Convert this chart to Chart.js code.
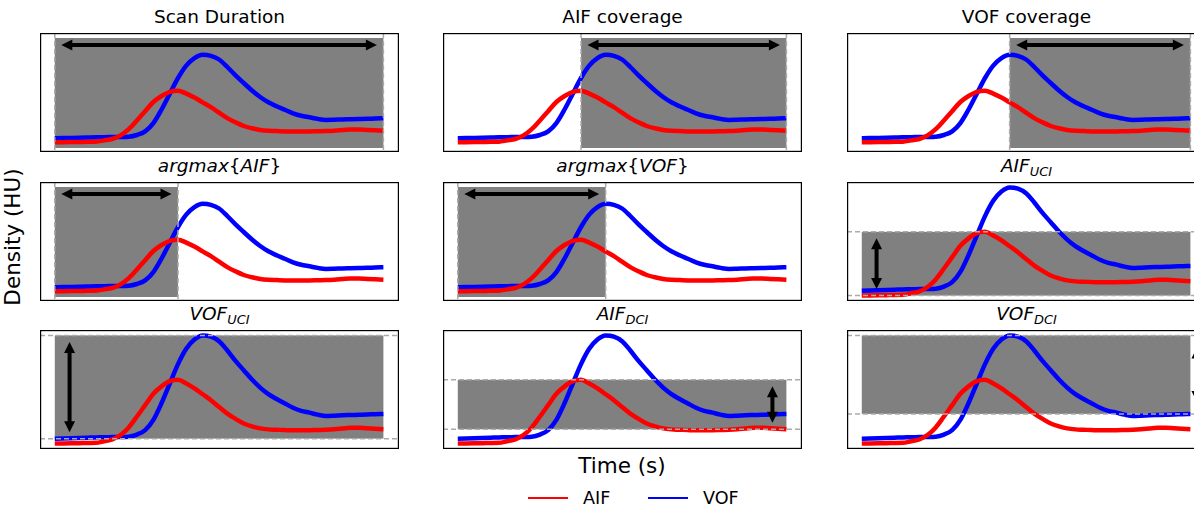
<!DOCTYPE html>
<html lang="en">
<head>
<meta charset="UTF-8">
<title>AIF / VOF timing and intensity panels</title>
<script src="https://cdn.jsdelivr.net/npm/chart.js"></script>
<style>
  html, body { margin: 0; padding: 0; }
  body { width: 1194px; height: 507px; overflow: hidden; position: relative; background: #fff;
         font-family: 'DejaVu Sans', sans-serif; color: #000; }
  canvas { position: absolute; }
  .title { position: absolute; font-size: 18.5px; line-height: 18.5px; white-space: nowrap; transform: translateX(-50%); }
  .title sub { font-size: 0.7em; vertical-align: baseline; position: relative; top: 0.3em; }
  #ylabel { position: absolute; left: 13.3px; top: 237px; font-size: 21.5px; line-height: 21.5px; white-space: nowrap;
            transform: translate(-50%, -50%) rotate(-90deg); }
  #xlabel { position: absolute; left: 622px; top: 455px; font-size: 21.5px; line-height: 21.5px; white-space: nowrap;
            transform: translateX(-50%); }
  .lg-line { position: absolute; top: 497px; width: 40px; height: 2px; }
  .lg-text { position: absolute; top: 490px; font-size: 17.6px; line-height: 17.6px; }
</style>
</head>
<body>
<div id="ylabel">Density (HU)</div>
<div id="xlabel">Time (s)</div>
<div id="legend"></div>

<script>
// ---- data ----
const times = [0, 1, 2, 3, 4, 5, 6, 7, 8, 9, 10, 11, 12, 13, 14, 15, 16, 17, 18, 19, 20,
               21, 22, 23, 24, 25, 26, 27, 28, 29, 30, 31, 32, 33, 34, 35, 36, 37, 38, 39, 40];
const aif = [7.7, 7.8, 7.9, 8.0, 8.2, 8.3, 9.6, 11.0, 14.6, 20.8, 29.6, 38.8, 48.0, 54.0, 58.2, 59.3,
             56.4, 52.4, 47.6, 42.8, 37.3, 31.9, 27.7, 24.0, 21.7, 20.0, 19.2, 18.9, 18.6, 18.4, 18.4,
             18.5, 18.7, 18.9, 19.3, 19.9, 20.5, 20.5, 20.1, 19.7, 19.3];
const vof = [11.7, 11.9, 12.1, 12.3, 12.5, 12.7, 12.8, 13.0, 13.1, 13.3, 15.0, 18.6, 26.9, 40.5, 56.3, 72.0,
             84.4, 91.9, 95.2, 94.2, 90.5, 83.0, 74.6, 67.0, 59.5, 53.0, 47.7, 43.7, 40.2, 36.7, 34.2,
             32.7, 31.1, 30.1, 30.3, 30.6, 30.8, 31.0, 31.2, 31.5, 31.7];

const seriesNames = ['AIF', 'VOF'];
const seriesColors = ['#ff0000', '#0000ff'];

const panelTitles = [
  'Scan Duration', 'AIF coverage', 'VOF coverage',
  '<i>argmax</i>{<i>AIF</i>}', '<i>argmax</i>{<i>VOF</i>}', '<i>AIF<sub>UCI</sub></i>',
  '<i>VOF<sub>UCI</sub></i>', '<i>AIF<sub>DCI</sub></i>', '<i>VOF<sub>DCI</sub></i>'
];

// ---- derived values ----
const tStart = times[0], tEnd = times[times.length - 1];
const aifMax = Math.max(...aif), aifMin = Math.min(...aif), aifLast = aif[aif.length - 1];
const vofMax = Math.max(...vof), vofMin = Math.min(...vof), vofLast = vof[vof.length - 1];
const aifPeakT = times[aif.indexOf(aifMax)];
const vofPeakT = times[vof.indexOf(vofMax)];

// vertical extent of the time-window shading, and height of its arrow
const band = [2, 112];
const arrowY = 105;

// y limits: timing panels leave room on top for the arrow, the others autoscale (5% margin)
const allVals = aif.concat(vof);
const lo = Math.min(...allVals), hi = Math.max(...allVals), pad = (hi - lo) * 0.05;
const tallY = [-2, 117];
const autoY = [lo - pad, hi + pad];

const panels = [
  { shadeX: [tStart, tEnd], shadeY: band, vlines: [tStart, tEnd], arrow: [tStart, arrowY, tEnd, arrowY], y: tallY },
  { shadeX: [aifPeakT, tEnd], shadeY: band, vlines: [aifPeakT, tEnd], arrow: [aifPeakT, arrowY, tEnd, arrowY], y: tallY },
  { shadeX: [vofPeakT, tEnd], shadeY: band, vlines: [vofPeakT, tEnd], arrow: [vofPeakT, arrowY, tEnd, arrowY], y: tallY },
  { shadeX: [tStart, aifPeakT], shadeY: band, vlines: [tStart, aifPeakT], arrow: [tStart, arrowY, aifPeakT, arrowY], y: tallY },
  { shadeX: [tStart, vofPeakT], shadeY: band, vlines: [tStart, vofPeakT], arrow: [tStart, arrowY, vofPeakT, arrowY], y: tallY },
  { shadeX: [tStart, tEnd], shadeY: [aifMin, aifMax], hlines: [aifMin, aifMax], arrow: [1.8, aifMin, 1.8, aifMax], y: autoY },
  { shadeX: [tStart, tEnd], shadeY: [vofMin, vofMax], hlines: [vofMin, vofMax], arrow: [1.8, vofMin, 1.8, vofMax], y: autoY },
  { shadeX: [tStart, tEnd], shadeY: [aifLast, aifMax], hlines: [aifLast, aifMax], arrow: [38.3, aifLast, 38.3, aifMax], y: autoY },
  { shadeX: [tStart, tEnd], shadeY: [vofLast, vofMax], hlines: [vofLast, vofMax], arrow: [40.8, vofLast, 40.8, vofMax], y: autoY, shrink: 12 }
];

// ---- layout ----
const colLeft = [40, 443, 847];
const rowTop = [33, 182, 330];
const axW = 359, axH = 119;

function drawArrow(ctx, ax, ay, bx, by, shrink) {
  const len = Math.hypot(bx - ax, by - ay);
  const ux = (bx - ax) / len, uy = (by - ay) / len;
  const px = -uy, py = ux;
  const head = 11, half = 5.5;
  ax += ux * shrink; ay += uy * shrink;
  bx -= ux * shrink; by -= uy * shrink;
  ctx.strokeStyle = '#000';
  ctx.fillStyle = '#000';
  ctx.lineWidth = 4;
  ctx.beginPath();
  ctx.moveTo(ax + ux * head * 0.8, ay + uy * head * 0.8);
  ctx.lineTo(bx - ux * head * 0.8, by - uy * head * 0.8);
  ctx.stroke();
  [[ax, ay, 1], [bx, by, -1]].forEach(([tx, ty, s]) => {
    ctx.beginPath();
    ctx.moveTo(tx, ty);
    ctx.lineTo(tx + s * ux * head + px * half, ty + s * uy * head + py * half);
    ctx.lineTo(tx + s * ux * head - px * half, ty + s * uy * head - py * half);
    ctx.closePath();
    ctx.fill();
  });
}

function overlay(spec) {
  return {
    id: 'overlay',
    beforeDatasetsDraw(chart) {
      const { ctx, scales: { x, y } } = chart;
      const x0 = x.getPixelForValue(spec.shadeX[0]), x1 = x.getPixelForValue(spec.shadeX[1]);
      const y0 = y.getPixelForValue(spec.shadeY[0]), y1 = y.getPixelForValue(spec.shadeY[1]);
      ctx.save();
      ctx.fillStyle = '#808080';
      ctx.fillRect(x0, y1, x1 - x0, y0 - y1);
      ctx.restore();
    },
    afterDatasetsDraw(chart) {
      const { ctx, chartArea: a, scales: { x, y } } = chart;
      ctx.save();
      ctx.strokeStyle = '#aaaaaa';
      ctx.lineWidth = 1.5;
      ctx.setLineDash([5, 3]);
      (spec.vlines || []).forEach(v => {
        const px = x.getPixelForValue(v);
        ctx.beginPath(); ctx.moveTo(px, a.top); ctx.lineTo(px, a.bottom); ctx.stroke();
      });
      (spec.hlines || []).forEach(v => {
        const py = y.getPixelForValue(v);
        ctx.beginPath(); ctx.moveTo(a.left, py); ctx.lineTo(a.right, py); ctx.stroke();
      });
      ctx.setLineDash([]);
      const [ax, ay, bx, by] = spec.arrow;
      drawArrow(ctx, x.getPixelForValue(ax), y.getPixelForValue(ay),
                x.getPixelForValue(bx), y.getPixelForValue(by), spec.shrink || 6.5);
      // axes frame
      ctx.strokeStyle = '#000';
      ctx.lineWidth = 1.2;
      ctx.strokeRect(a.left + 0.6, a.top + 0.6, a.width - 1.2, a.height - 1.2);
      ctx.restore();
    }
  };
}

panels.forEach((spec, i) => {
  const col = i % 3, row = Math.floor(i / 3);
  const left = colLeft[col], top = rowTop[row];

  const title = document.createElement('div');
  title.className = 'title';
  title.innerHTML = panelTitles[i];
  title.style.left = (left + axW / 2) + 'px';
  title.style.top = (top - 9.3 - 15.65) + 'px';
  document.body.appendChild(title);

  const canvas = document.createElement('canvas');
  canvas.width = axW;
  canvas.height = axH;
  canvas.style.left = left + 'px';
  canvas.style.top = top + 'px';
  document.body.appendChild(canvas);

  new Chart(canvas, {
    type: 'line',
    data: {
      datasets: [aif, vof].map((vals, k) => ({
        label: seriesNames[k],
        data: times.map((t, j) => ({ x: t, y: vals[j] })),
        borderColor: seriesColors[k],
        borderWidth: 4.5,
        pointRadius: 0,
        cubicInterpolationMode: 'monotone',
        fill: false
      }))
    },
    options: {
      responsive: false,
      animation: false,
      events: [],
      layout: { padding: 0 },
      plugins: { legend: { display: false }, tooltip: { enabled: false } },
      scales: {
        x: { type: 'linear', min: -1.8, max: 41.9, display: false },
        y: { min: spec.y[0], max: spec.y[1], display: false }
      }
    },
    plugins: [overlay(spec)]
  });
});

// legend below the grid
const legend = document.getElementById('legend');
const legendX = [528, 648];
seriesNames.forEach((name, k) => {
  const line = document.createElement('div');
  line.className = 'lg-line';
  line.style.left = legendX[k] + 'px';
  line.style.background = seriesColors[k];
  legend.appendChild(line);
  const txt = document.createElement('div');
  txt.className = 'lg-text';
  txt.style.left = (legendX[k] + 55) + 'px';
  txt.textContent = name;
  legend.appendChild(txt);
});
</script>
</body>
</html>
